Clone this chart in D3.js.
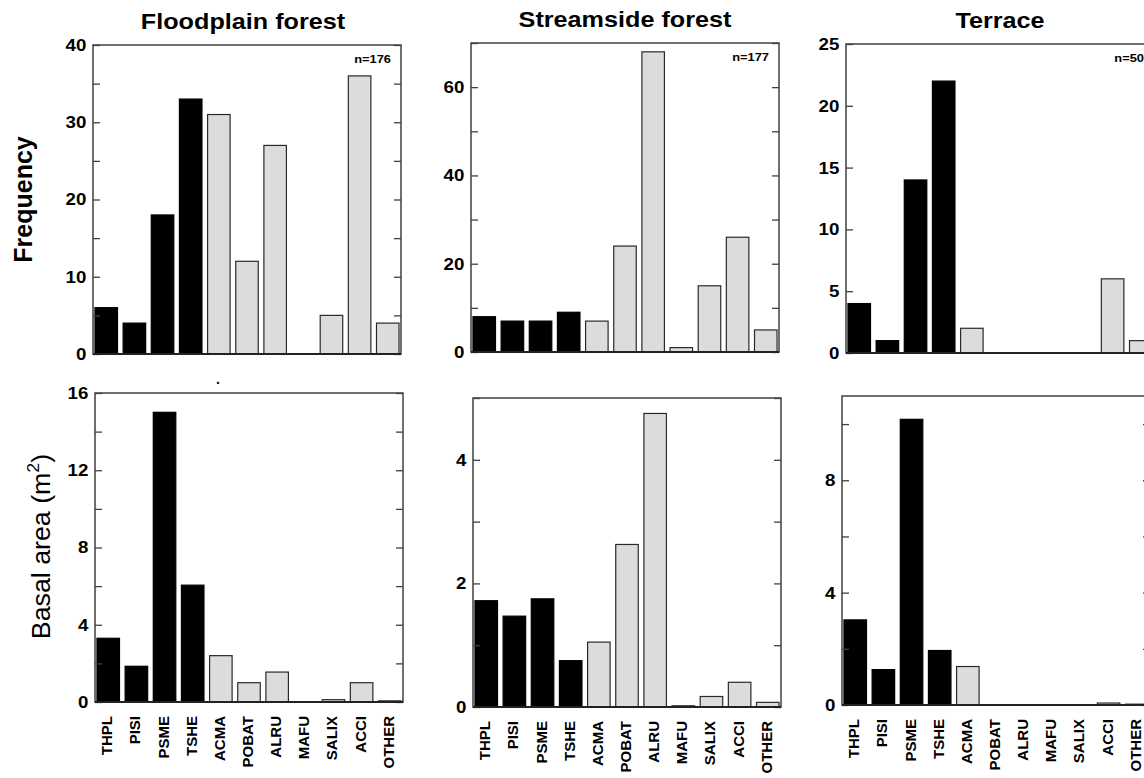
<!DOCTYPE html>
<html>
<head>
<meta charset="utf-8">
<script src="https://cdn.jsdelivr.net/npm/d3@7"></script>
<style>
  html, body { margin: 0; padding: 0; background: #fff; }
  svg { display: block; font-family: "Liberation Sans", Arial, sans-serif; }
</style>
</head>
<body>
<svg id="chart" width="1144" height="778"></svg>
<script>
// ---- data ----
const categories = ["THPL","PISI","PSME","TSHE","ACMA","POBAT","ALRU","MAFU","SALIX","ACCI","OTHER"];
const conifers = ["THPL","PISI","PSME","TSHE"];
const titles = ["Floodplain forest","Streamside forest","Terrace"];
const sampleSizes = ["n=176","n=177","n=50"];

const floodFreq   = [6, 4, 18, 33, 31, 12, 27, 0, 5, 36, 4];
const streamFreq  = [8, 7, 7, 9, 7, 24, 68, 1, 15, 26, 5];
const terraceFreq = [4, 1, 14, 22, 2, 0, 0, 0, 0, 6, 1];

const floodBasal   = [3.3, 1.85, 15.0, 6.05, 2.4, 1.0, 1.55, 0, 0.12, 1.0, 0.06];
const streamBasal  = [1.72, 1.47, 1.75, 0.75, 1.05, 2.63, 4.75, 0.02, 0.17, 0.40, 0.075];
const terraceBasal = [3.03, 1.26, 10.17, 1.94, 1.37, 0, 0, 0, 0, 0.07, 0.03];

const freqMax  = [40, 70, 25];
const freqTickStep = [5, 10, 5];
const freqLabelStep = [10, 20, 5];
const basalMax = [16, 5, 11];
const basalTickStep = [2, 1, 2];
const basalLabelStep = [4, 2, 4];

// ---- layout ----
const svg = d3.select("#chart");
const panelW = 308, panelH = 309;
const topFrames = [{x: 93, y: 45}, {x: 471, y: 43}, {x: 846, y: 44}];
const botFrames = [{x: 95, y: 393}, {x: 473, y: 398}, {x: 842, y: 396}];

const frameColor = "#404040";
const grayFill = "#dcdcdc";

function drawPanel(frame, values, ymax, tickStep, labelStep, opts) {
  const g = svg.append("g").attr("transform", `translate(${frame.x},${frame.y})`);
  const x = d3.scaleBand().domain(categories).range([0, panelW]).paddingInner(0.2).paddingOuter(0.07);
  const y = d3.scaleLinear().domain([0, ymax]).range([panelH, 0]);

  const ticks = d3.range(0, ymax + 1e-9, tickStep);
  const labelled = ticks.filter(t => Math.abs(t / labelStep - Math.round(t / labelStep)) < 1e-9);

  // bars
  const data = categories.map((c, i) => ({c, v: values[i]})).filter(d => d.v > 0);
  g.selectAll("rect.bar").data(data).enter().append("rect")
    .attr("class", "bar")
    .attr("x", d => x(d.c))
    .attr("width", x.bandwidth())
    .attr("y", d => y(d.v))
    .attr("height", d => panelH - y(d.v))
    .attr("fill", d => conifers.includes(d.c) ? "#000" : grayFill)
    .attr("stroke", d => conifers.includes(d.c) ? "#000" : "#2a2a2a")
    .attr("stroke-width", 1.2);

  // left axis: inward ticks
  const left = d3.axisRight(y).tickValues(ticks).tickSize(7).tickFormat("");
  const gl = g.append("g").call(left);
  gl.select(".domain").remove();
  gl.selectAll("line").attr("stroke", frameColor).attr("stroke-width", 1.3);
  // right axis inward ticks
  const right = d3.axisLeft(y).tickValues(ticks).tickSize(7).tickFormat("");
  const gr = g.append("g").attr("transform", `translate(${panelW},0)`).call(right);
  gr.select(".domain").remove();
  gr.selectAll("line").attr("stroke", frameColor).attr("stroke-width", 1.3);

  // tick labels
  const lab = d3.axisLeft(y).tickValues(labelled).tickSize(0).tickPadding(6).tickFormat(d3.format("d"));
  const gt = g.append("g").call(lab);
  gt.select(".domain").remove();
  gt.selectAll("text").attr("font-size", 17).attr("font-weight", "bold")
    .attr("font-family", "Liberation Sans, Arial, sans-serif").attr("fill", "#000")
    .attr("transform", "scale(1.1,1)");

  // frame
  g.append("rect").attr("x", 0).attr("y", 0).attr("width", panelW).attr("height", panelH)
    .attr("fill", "none").attr("stroke", frameColor).attr("stroke-width", 1.5);
  g.append("line").attr("x1", 0).attr("x2", panelW).attr("y1", panelH).attr("y2", panelH)
    .attr("stroke", "#222").attr("stroke-width", 2);

  if (opts.title) {
    g.append("text")
      .attr("transform", `translate(${panelW / 2 + (opts.titleDx || 0)},-16.5) scale(1.12,1)`)
      .attr("text-anchor", "middle").attr("font-size", 22.5).attr("font-weight", "bold")
      .text(opts.title);
  }
  if (opts.n) {
    g.append("text").attr("transform", `translate(${panelW - 10},18) scale(1.12,1)`)
      .attr("text-anchor", "end").attr("font-size", 11.5).attr("font-weight", "bold").text(opts.n);
  }
  if (opts.xlabels) {
    g.selectAll("text.xl").data(categories).enter().append("text")
      .attr("class", "xl")
      .attr("transform", d => `translate(${x(d) + x.bandwidth() / 2 + 4},${panelH + 14}) rotate(-90)`)
      .attr("text-anchor", "end")
      .attr("font-size", 15).attr("font-weight", "bold").text(d => d);
  }
  return g;
}

const freqSets = [floodFreq, streamFreq, terraceFreq];
const basalSets = [floodBasal, streamBasal, terraceBasal];
const titleDx = [-4, 0, 0];

for (let i = 0; i < 3; i++) {
  drawPanel(topFrames[i], freqSets[i], freqMax[i], freqTickStep[i], freqLabelStep[i],
    {title: titles[i], n: sampleSizes[i], titleDx: titleDx[i]});
  drawPanel(botFrames[i], basalSets[i], basalMax[i], basalTickStep[i], basalLabelStep[i],
    {xlabels: true});
}

// stray dot above bottom-left panel
svg.append("text").attr("x", 216).attr("y", 384).attr("font-size", 14).attr("font-weight", "bold").text(".");

// y axis titles
svg.append("text")
  .attr("transform", `translate(32,${topFrames[0].y + panelH / 2}) rotate(-90)`)
  .attr("text-anchor", "middle").attr("font-size", 25).attr("font-weight", "bold")
  .text("Frequency");

const basal = svg.append("text")
  .attr("transform", `translate(50,${botFrames[0].y + panelH / 2 - 1}) rotate(-90) scale(1.05,1)`)
  .attr("text-anchor", "middle").attr("font-size", 25.5);
basal.append("tspan").text("Basal area (m");
basal.append("tspan").attr("font-size", 17).attr("dy", -11).text("2");
basal.append("tspan").attr("dy", 11).text(")");
</script>
</body>
</html>
